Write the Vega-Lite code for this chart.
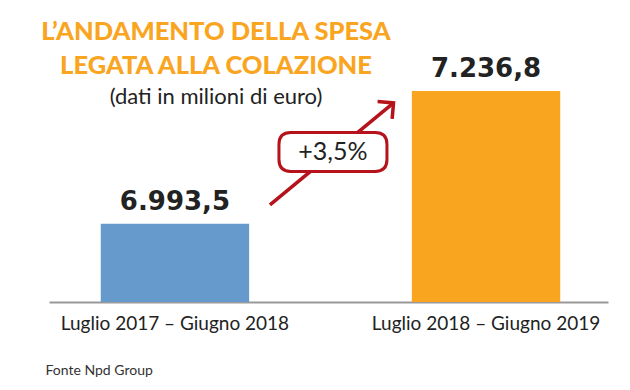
{
  "$schema": "https://vega.github.io/schema/vega-lite/v6.json",
  "width": 559,
  "height": 302,
  "autosize": {"type": "none"},
  "padding": {"left": 49, "top": 0, "right": 22, "bottom": 88},
  "background": "white",
  "config": {
    "view": {"stroke": null},
    "font": "Lato",
    "locale": {"number": {"decimal": ",", "thousands": ".", "grouping": [3], "currency": ["", " €"]}}
  },
  "title": {
    "text": ["L’ANDAMENTO DELLA SPESA", "LEGATA ALLA COLAZIONE"],
    "subtitle": "(dati in milioni di euro)",
    "anchor": "start",
    "align": "center",
    "dx": 171,
    "offset": -108,
    "font": "Lato",
    "fontSize": 25.5,
    "fontWeight": 900,
    "color": "#F9A51F",
    "lineHeight": 34,
    "subtitleFont": "Lato",
    "subtitleFontSize": 22,
    "subtitleFontWeight": "normal",
    "subtitleColor": "#222222",
    "subtitlePadding": 8
  },
  "datasets": {
    "bars": [
      {"periodo": "Luglio 2017 – Giugno 2018", "spesa": 6993.5},
      {"periodo": "Luglio 2018 – Giugno 2019", "spesa": 7236.8}
    ],
    "change": [
      {"da": "Luglio 2017 – Giugno 2018", "a": "Luglio 2018 – Giugno 2019", "inizio": 7028, "fine": 7215, "livello": 7125, "etichetta": "+3,5%"}
    ]
  },
  "layer": [
    {
      "data": {"name": "bars"},
      "mark": {"type": "bar"},
      "encoding": {
        "x": {
          "field": "periodo", "type": "nominal", "sort": null,
          "scale": {"type": "band", "paddingInner": 0.523, "paddingOuter": 0.16, "align": 0.52},
          "axis": {
            "labelAngle": 0, "labelFontSize": 19, "labelColor": "#222222", "labelFont": "Lato",
            "labelPadding": 12, "labelLimit": 400, "ticks": false, "domainColor": "#999999", "domainWidth": 2,
            "title": "Fonte Npd Group", "titleX": -4, "titleY": 72, "titleAlign": "left",
            "titleAnchor": "start", "titleBaseline": "alphabetic", "titleFontSize": 14,
            "titleFontWeight": "normal", "titleColor": "#333333", "titleFont": "Lato"
          }
        },
        "y": {
          "field": "spesa", "type": "quantitative",
          "scale": {"domain": [6850, 7403.6], "nice": false, "zero": false, "clamp": true},
          "axis": null
        },
        "color": {
          "field": "periodo", "type": "nominal", "sort": null,
          "scale": {"range": ["#6699CC", "#F9A51F"]},
          "legend": null
        }
      }
    },
    {
      "data": {"name": "bars"},
      "mark": {"type": "text", "dy": -14, "fontSize": 26, "fontWeight": "bold", "font": "DejaVu Sans", "color": "#222222", "baseline": "alphabetic"},
      "encoding": {
        "x": {"field": "periodo", "type": "nominal", "sort": null},
        "y": {"field": "spesa", "type": "quantitative"},
        "text": {"field": "spesa", "type": "quantitative", "format": ",.1f"}
      }
    },
    {
      "data": {"name": "change"},
      "mark": {"type": "rule", "color": "#B5121B", "strokeWidth": 3.5, "xOffset": 95, "x2Offset": -92.5},
      "encoding": {
        "x": {"field": "da", "type": "nominal", "sort": null, "bandPosition": 0.5},
        "x2": {"field": "a", "bandPosition": 0.5},
        "y": {"field": "inizio", "type": "quantitative"},
        "y2": {"field": "fine"}
      }
    },
    {
      "data": {"name": "change"},
      "mark": {"type": "point", "shape": "M-1,1L0,0L1,1", "size": 512, "angle": 50, "filled": false, "stroke": "#B5121B", "strokeWidth": 3.5, "opacity": 1, "xOffset": -92.5},
      "encoding": {
        "x": {"field": "a", "type": "nominal", "sort": null},
        "y": {"field": "fine", "type": "quantitative"}
      }
    },
    {
      "data": {"name": "change"},
      "mark": {"type": "point", "shape": "M-0.78,-0.361L0.78,-0.361Q1,-0.361,1,-0.14L1,0.14Q1,0.361,0.78,0.361L-0.78,0.361Q-1,0.361,-1,0.14L-1,-0.14Q-1,-0.361,-0.78,-0.361Z", "size": 11664, "filled": true, "fill": "white", "stroke": "#B5121B", "strokeWidth": 3, "opacity": 1, "fillOpacity": 1, "xOffset": 158},
      "encoding": {
        "x": {"field": "da", "type": "nominal", "sort": null},
        "y": {"field": "livello", "type": "quantitative"}
      }
    },
    {
      "data": {"name": "change"},
      "mark": {"type": "text", "fontSize": 25, "font": "Lato", "color": "#222222", "baseline": "middle", "align": "center", "xOffset": 158},
      "encoding": {
        "x": {"field": "da", "type": "nominal", "sort": null},
        "y": {"field": "livello", "type": "quantitative"},
        "text": {"field": "etichetta", "type": "nominal"}
      }
    }
  ]
}
